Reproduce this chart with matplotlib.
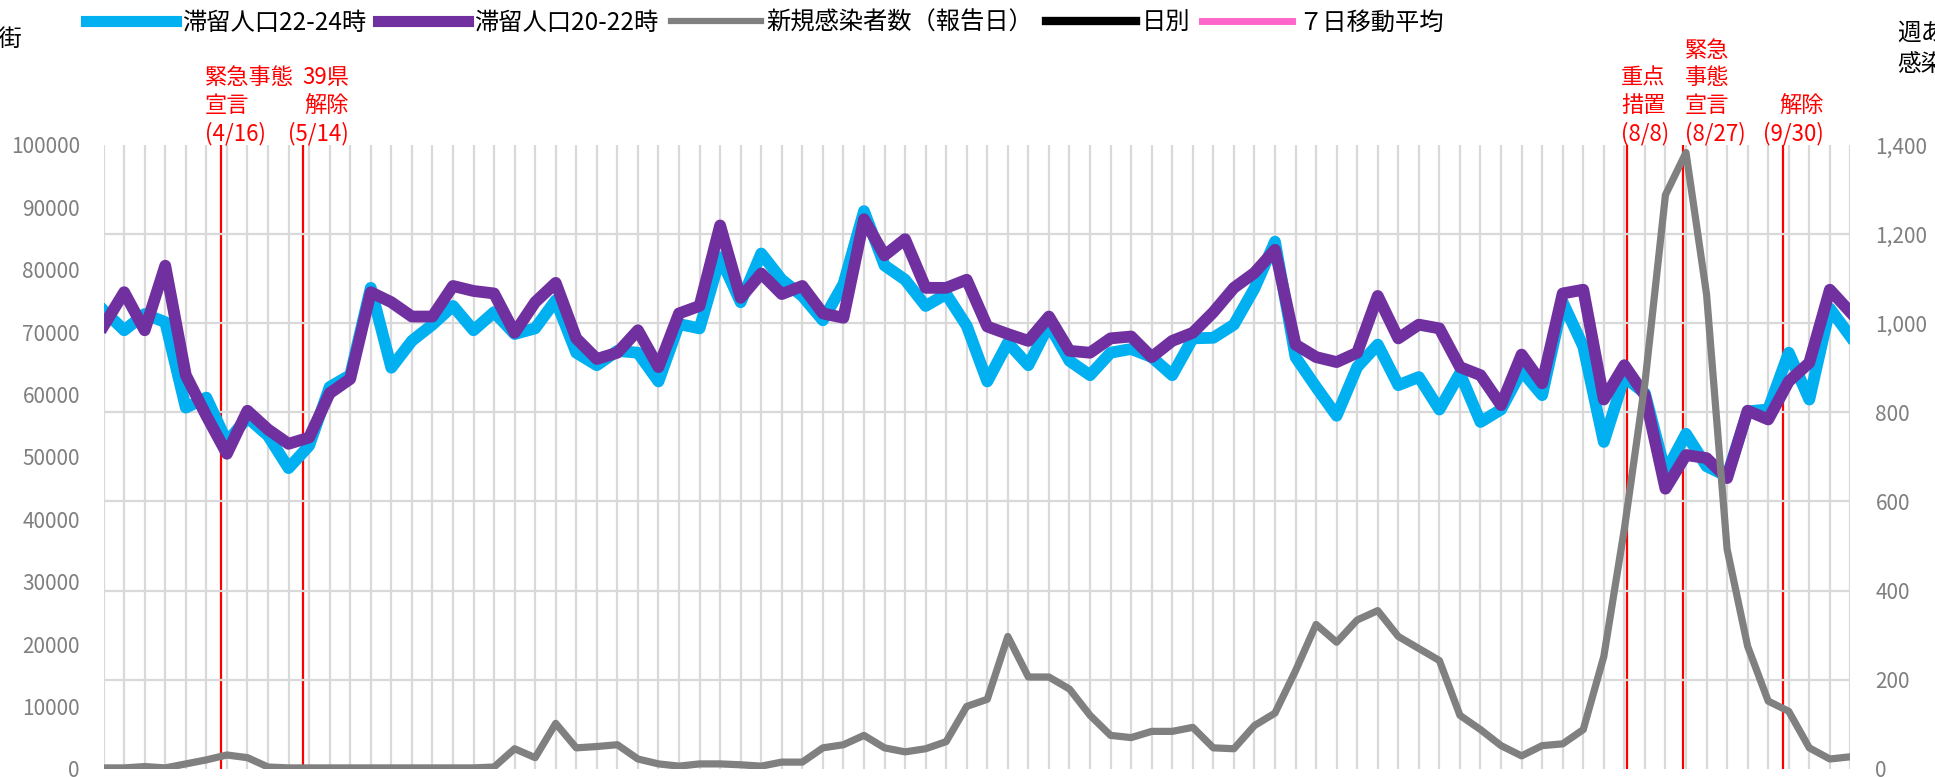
import pandas as pd
import matplotlib
matplotlib.use("Agg")
import matplotlib.pyplot as plt
from matplotlib.lines import Line2D
from matplotlib.ticker import FuncFormatter

plt.rcParams['font.family'] = ['Noto Sans CJK JP', 'DejaVu Sans']

# weekly points, first week starting 2020-03-07
start = '2020-03-07'
n_weeks = 86

stay_22_24 = [73500, 70300, 72900, 71600, 57900, 59500, 52400, 56300, 53400, 48200,
              51800, 61200, 63100, 77100, 64300, 68600, 71200, 74200, 70300, 73200,
              69700, 70600, 75100, 66700, 64700, 67000, 66700, 62100, 71300, 70600,
              82000, 74800, 82600, 78400, 75800, 71900, 77700, 89400, 80700, 78400,
              74200, 76100, 71000, 62100, 68300, 64700, 71200, 65400, 63100, 66700,
              67300, 66000, 63100, 69000, 69100, 71200, 77000, 84500, 66000, 61200,
              56600, 64400, 68000, 61500, 62800, 57600, 63400, 55600, 57600, 63800,
              59900, 74800, 67700, 52400, 62800, 60200, 47500, 53700, 48500, 46900,
              57300, 57600, 66700, 59200, 73800, 69300]

stay_20_22 = [71000, 76400, 70300, 80650, 63100, 56600, 50500, 57400, 54400, 52100,
              53100, 60200, 62500, 76400, 74800, 72500, 72500, 77400, 76600, 76200,
              69900, 74800, 77900, 69000, 65700, 66700, 70300, 64400, 73000, 74200,
              87100, 75500, 79400, 76100, 77400, 73000, 72300, 88100, 82300, 84900,
              77100, 77100, 78400, 70900, 69700, 68600, 72500, 67000, 66700, 69000,
              69300, 66000, 68600, 69900, 73200, 77100, 79500, 83200, 68000, 66000,
              65200, 66700, 75800, 69000, 71200, 70600, 64400, 63100, 58300, 66400,
              61800, 76200, 76800, 59200, 64700, 59900, 44900, 50300, 49800, 46600,
              57400, 56000, 62100, 65100, 76800, 73200]

new_cases = [2, 2, 5, 2, 11, 20, 31, 25, 4, 2,
             2, 2, 2, 2, 2, 2, 2, 2, 2, 4,
             45, 25, 102, 47, 50, 54, 22, 11, 6, 11,
             11, 9, 6, 15, 15, 47, 54, 75, 47, 38,
             45, 61, 140, 156, 297, 206, 206, 179, 120, 75,
             70, 84, 84, 93, 47, 45, 97, 125, 220, 324,
             284, 334, 355, 297, 270, 243, 120, 88, 52, 29,
             52, 56, 88, 252, 538, 865, 1288, 1383, 1065, 493,
             275, 152, 129, 47, 22, 27]

event_dates = ['2020-04-16', '2020-05-14', '2021-08-08', '2021-08-27', '2021-09-30']
event_labels = ['緊急事態\n宣言\n(4/16)', '39県\n解除\n(5/14)', '重点\n措置\n(8/8)',
                '緊急\n事態\n宣言\n(8/27)', '解除\n(9/30)']

left_max = 100000
right_max = 1400
right_ticks = list(range(0, 1401, 200))

dates = pd.date_range(start, periods=n_weeks, freq='7D')

W, H = 1935, 777
fig = plt.figure(figsize=(W / 100, H / 100), dpi=100)
ax = fig.add_axes([103.6 / W, 1 - 768.8 / H, (1850.4 - 103.6) / W, (768.8 - 145) / H])
ax2 = ax.twinx()

grid_c = '#d9d9d9'
ax.set_xlim(dates[0], dates[-1])
ax.set_ylim(0, left_max)
ax2.set_ylim(0, right_max)
ax.set_xticks(dates)
ax.set_xticklabels([])
ax.set_yticks(range(0, left_max + 1, 10000))
ax.set_yticks([t * left_max / right_max for t in right_ticks], minor=True)
ax2.set_yticks(right_ticks)
ax2.yaxis.set_major_formatter(FuncFormatter(lambda v, p: f'{int(v):,}'))
ax.grid(axis='x', color=grid_c, lw=1.6)
ax.grid(axis='y', which='minor', color=grid_c, lw=1.6)
ax.tick_params(axis='both', which='both', length=0)
ax.tick_params(axis='y', labelsize=15, labelcolor='#7f7f7f', pad=17)
ax2.tick_params(axis='y', length=0, labelsize=15, labelcolor='#7f7f7f', pad=18)
for a in (ax, ax2):
    for s in a.spines.values():
        s.set_visible(False)

for d in event_dates:
    ax.axvline(pd.Timestamp(d), color='#ff0000', lw=1.6, zorder=1.5)

l1, = ax.plot(dates, stay_22_24, color='#00b0f0', lw=8.5, solid_joinstyle='round', zorder=3)
l2, = ax.plot(dates, stay_20_22, color='#7030a0', lw=8.5, solid_joinstyle='round', zorder=4)
l3, = ax2.plot(dates, new_cases, color='#808080', lw=5.2, solid_joinstyle='round')

# label placement (pixels from line, alignment)
label_style = [(-16, 'left'), (46, 'right'), (-6, 'left'), (2, 'left'), (41, 'right')]
for d, txt, (dx, ha) in zip(event_dates, event_labels, label_style):
    ax.annotate(txt, xy=(pd.Timestamp(d), 1), xycoords=('data', 'axes fraction'),
                xytext=(dx, 0), textcoords='offset pixels', ha=ha, va='bottom',
                color='#ff0000', fontsize=16, linespacing=1.25, annotation_clip=False)

handles = [Line2D([], [], color='#00b0f0', lw=8),
           Line2D([], [], color='#7030a0', lw=8),
           Line2D([], [], color='#808080', lw=4.5),
           Line2D([], [], color='black', lw=6),
           Line2D([], [], color='#ff66cc', lw=5)]
names = ['滞留人口22-24時', '滞留人口20-22時', '新規感染者数（報告日）', '日別', '７日移動平均']
fig.legend(handles, names, loc='center left', bbox_to_anchor=(86 / W, 1 - 23 / H),
           ncol=5, frameon=False, fontsize=17.5, handlelength=3.7, handletextpad=0.25,
           columnspacing=0.5, borderpad=0, borderaxespad=0)

fig.text(23 / W, 1 - 39 / H, '繁華街', ha='right', va='center', fontsize=17)
fig.text(1897 / W, 1 - 22 / H, '週あたり\n感染者数', ha='left', va='top', fontsize=17,
         linespacing=1.45)

fig.savefig('out.png', dpi=100)
